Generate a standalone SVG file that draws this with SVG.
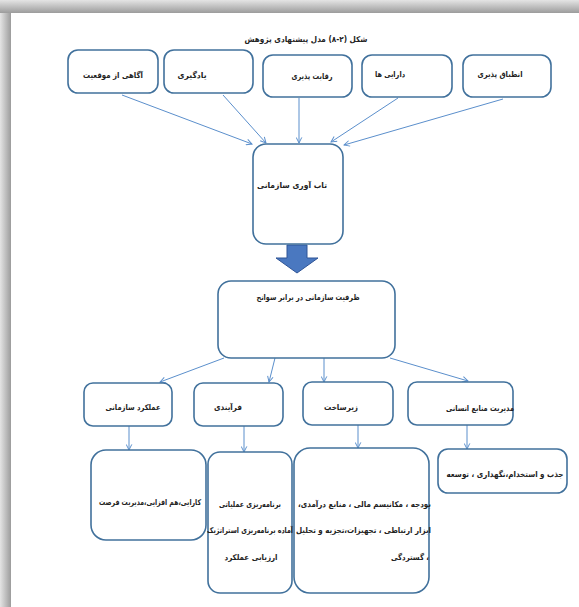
<svg xmlns="http://www.w3.org/2000/svg" width="579" height="607" viewBox="0 0 579 607">
<style>
.box{fill:#fff;stroke:#41719c;stroke-width:1.6}
.con{stroke:#5b8fcc;stroke-width:1;fill:none}
text{font-family:"DejaVu Sans",sans-serif;font-size:8px;font-weight:bold;fill:#222;direction:rtl;text-anchor:middle}
.r{text-anchor:start}
</style>
<defs>
<linearGradient id="gt" x1="0" y1="0" x2="0" y2="1"><stop offset="0" stop-color="#e4e4e4"/><stop offset="1" stop-color="#9c9c9c"/></linearGradient>
<linearGradient id="gl" x1="0" y1="0" x2="1" y2="0"><stop offset="0" stop-color="#e4e4e4"/><stop offset="1" stop-color="#9c9c9c"/></linearGradient>
<marker id="ah" viewBox="0 0 10 10" refX="9" refY="5" markerWidth="7" markerHeight="7" orient="auto" markerUnits="userSpaceOnUse">
<path d="M1,1 L9,5 L1,9" fill="none" stroke="#5b8fcc" stroke-width="1.4"/>
</marker>
</defs>
<rect x="0" y="0" width="579" height="607" fill="#cfcfcf"/>
<rect x="0" y="0" width="579" height="13" fill="url(#gt)"/>
<rect x="0" y="13" width="11" height="594" fill="url(#gl)"/>
<rect x="11" y="13" width="568" height="594" fill="#fff"/>
<text x="306" y="42" textLength="123" lengthAdjust="spacingAndGlyphs">شکل (۲-۸) مدل پیشنهادی پژوهش</text>

<g id="connectors">
<line class="con" x1="122" y1="95" x2="252" y2="144" marker-end="url(#ah)"/>
<line class="con" x1="223" y1="95" x2="266" y2="143" marker-end="url(#ah)"/>
<line class="con" x1="299" y1="98" x2="299" y2="143" marker-end="url(#ah)"/>
<line class="con" x1="398" y1="98" x2="331" y2="142" marker-end="url(#ah)"/>
<line class="con" x1="503" y1="99" x2="344" y2="145" marker-end="url(#ah)"/>
<line class="con" x1="224" y1="358" x2="160" y2="382" marker-end="url(#ah)"/>
<line class="con" x1="275" y1="358" x2="269" y2="382" marker-end="url(#ah)"/>
<line class="con" x1="324" y1="358" x2="324" y2="382" marker-end="url(#ah)"/>
<line class="con" x1="390" y1="358" x2="468" y2="381" marker-end="url(#ah)"/>
<line class="con" x1="129" y1="426" x2="129" y2="450" marker-end="url(#ah)"/>
<line class="con" x1="244" y1="426" x2="244" y2="452" marker-end="url(#ah)"/>
<line class="con" x1="358" y1="425" x2="358" y2="448" marker-end="url(#ah)"/>
<line class="con" x1="467" y1="425" x2="467" y2="449" marker-end="url(#ah)"/>
<path d="M287,245 H307 V258 H318 L297,273 L276,258 H287 Z" fill="#4a78c0" stroke="#2f5597" stroke-width="1"/>
</g>

<g id="n1"><rect class="box" x="68" y="50" width="90" height="43" rx="10"/><text x="113" y="78" textLength="60" lengthAdjust="spacingAndGlyphs">آگاهی از موقعیت</text></g>
<g id="n2"><rect class="box" x="164" y="50" width="89" height="43" rx="10"/><text x="192" y="78" textLength="29" lengthAdjust="spacingAndGlyphs">یادگیری</text></g>
<g id="n3"><rect class="box" x="263" y="55" width="89" height="42" rx="10"/><text x="312" y="79" textLength="41" lengthAdjust="spacingAndGlyphs">رقابت پذیری</text></g>
<g id="n4"><rect class="box" x="362" y="55" width="90" height="42" rx="10"/><text x="390" y="77" textLength="30" lengthAdjust="spacingAndGlyphs">دارایی ها</text></g>
<g id="n5"><rect class="box" x="463" y="55" width="88" height="42" rx="10"/><text x="500" y="77" textLength="45" lengthAdjust="spacingAndGlyphs">انطباق پذیری</text></g>

<g id="n6"><rect class="box" x="253" y="144" width="90" height="100" rx="13"/><text x="292" y="188" textLength="70" lengthAdjust="spacingAndGlyphs">تاب آوری سازمانی</text></g>
<g id="n7"><rect class="box" x="218" y="281" width="177" height="77" rx="13"/><text x="308" y="300" textLength="103" lengthAdjust="spacingAndGlyphs">ظرفیت سازمانی در برابر سوانح</text></g>

<g id="n8"><rect class="box" x="84" y="383" width="88" height="43" rx="9"/><text x="133" y="410" textLength="55" lengthAdjust="spacingAndGlyphs">عملکرد سازمانی</text></g>
<g id="n9"><rect class="box" x="194" y="383" width="89" height="43" rx="9"/><text x="228" y="410" textLength="28" lengthAdjust="spacingAndGlyphs">فرآیندی</text></g>
<g id="n10"><rect class="box" x="303" y="382" width="90" height="43" rx="9"/><text x="341" y="410" textLength="34" lengthAdjust="spacingAndGlyphs">زیرساخت</text></g>
<g id="n11"><rect class="box" x="408" y="382" width="105" height="43" rx="9"/><text x="480" y="411" textLength="68" lengthAdjust="spacingAndGlyphs">مدیریت منابع انسانی</text></g>

<g id="n12"><rect class="box" x="91" y="450" width="115" height="90" rx="15"/><text x="150" y="505" textLength="102" lengthAdjust="spacingAndGlyphs">کارایی،هم افزایی،مدیریت فرصت</text></g>
<g id="n13"><rect class="box" x="208" y="452" width="84" height="141" rx="12"/>
<text x="250" y="507" textLength="62" lengthAdjust="spacingAndGlyphs">برنامه‌ریزی عملیاتی</text>
<text class="r" x="293" y="533" textLength="86" lengthAdjust="spacingAndGlyphs">آماده برنامه‌ریزی استراتژیک</text>
<text x="251" y="560" textLength="53" lengthAdjust="spacingAndGlyphs">ارزیابی عملکرد</text></g>
<g id="n14"><rect class="box" x="294" y="448" width="135" height="145" rx="16"/>
<text class="r" x="431" y="507" textLength="133" lengthAdjust="spacingAndGlyphs">بودجه ، مکانیسم مالی ، منابع درآمدی،</text>
<text class="r" x="431" y="533" textLength="135" lengthAdjust="spacingAndGlyphs">ابزار ارتباطی ، تجهیزات،تجزیه و تحلیل</text>
<text class="r" x="429" y="560" textLength="38" lengthAdjust="spacingAndGlyphs">، گستردگی</text></g>
<g id="n15"><rect class="box" x="438" y="449" width="129" height="44" rx="10"/><text x="505" y="477" textLength="117" lengthAdjust="spacingAndGlyphs">جذب و استخدام،نگهداری ، توسعه</text></g>
</svg>
